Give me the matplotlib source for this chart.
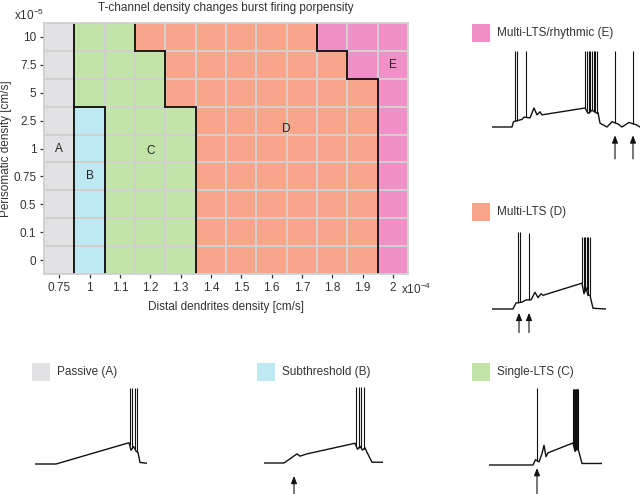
import numpy as np
import matplotlib
matplotlib.use('Agg')
import matplotlib.pyplot as plt
from matplotlib.colors import ListedColormap
from matplotlib.patches import Rectangle

plt.rcParams['font.family'] = 'Liberation Sans'
plt.rcParams['mathtext.default'] = 'regular'

# ---- heat map data ----
distal_labels = ['0.75', '1', '1.1', '1.2', '1.3', '1.4', '1.5', '1.6', '1.7', '1.8', '1.9', '2']
somatic_labels = ['0', '0.1', '0.5', '0.75', '1', '2.5', '5', '7.5', '10']
# rows from top (10) to bottom (0)
region_rows = [
    'ACCDDDDDDEEE',
    'ACCCDDDDDDEE',
    'ACCCDDDDDDDE',
    'ABCCCDDDDDDE',
    'ABCCCDDDDDDE',
    'ABCCCDDDDDDE',
    'ABCCCDDDDDDE',
    'ABCCCDDDDDDE',
    'ABCCCDDDDDDE',
]
region_names = ['A', 'B', 'C', 'D', 'E']
region_colors = ['#e2e2e4', '#bfe9f2', '#c3e4a8', '#f9a58c', '#f190c6']
region_label_pos = {'A': (0, 4), 'B': (1, 3), 'C': (3, 3.9), 'D': (7.5, 4.7), 'E': (11, 7)}

# ---- example voltage traces (time ms, membrane potential mV) ----
e_t = [0, 200, 215, 270, 300, 320, 380, 420, 450, 480, 500, 930, 960, 1000, 1050, 1060, 1080, 1150, 1200, 1260, 1300, 1370, 1440, 1480]
e_v = [-70, -70, -63, -61, -60, -57, -58, -45, -54, -50, -54, -45, -52, -48, -52, -51, -65, -70, -63, -66, -70, -64, -67, -70]
e_spikes = [230, 250, 340, 930, 948, 965, 982, 1000, 1017, 1034, 1050, 1230, 1410]
e_peaks = [30, 30, 30, 30, 30, 30, 30, 30, 30, 30, 30, 30, 30]
e_arrows = [1230, 1410]

d_t = [0, 210, 240, 300, 340, 390, 430, 460, 490, 510, 900, 920, 940, 960, 980, 1010, 1140]
d_v = [-70, -70, -62, -61, -58, -58, -48, -55, -50, -52, -36, -50, -42, -52, -52, -69, -70]
d_spikes = [260, 280, 370, 900, 915, 930, 945, 960, 975]
d_peaks = [31, 31, 30, 25, 25, 25, 25, 25, 25]
d_arrows = [270, 370]

a_t = [0, 210, 940, 960, 985, 1010, 1030, 1050, 1120]
a_v = [-70, -70, -42, -52, -47, -53, -55, -68, -69]
a_spikes = [947, 973, 997, 1023]
a_peaks = [30, 30, 30, 30]

b_t = [0, 200, 330, 360, 430, 910, 935, 960, 985, 1010, 1030, 1080, 1190]
b_v = [-70, -70, -58, -61, -58, -44, -52, -48, -53, -50, -56, -69, -69]
b_spikes = [920, 947, 973, 1000]
b_peaks = [30, 30, 30, 30]
b_arrows = [300]

c_t = [0, 440, 465, 500, 530, 550, 570, 590, 840, 860, 880, 900, 930, 1130]
c_v = [-70, -70, -63, -66, -55, -44, -59, -54, -41, -52, -47, -53, -68, -68]
c_spikes = [480, 842, 848, 854, 860, 866, 872, 878, 884, 890]
c_peaks = [31, 30, 30, 30, 30, 30, 30, 30, 30, 30]
c_arrows = [480]

W, H = 640, 494
fig = plt.figure(figsize=(6.4, 4.94), dpi=100)

# ---- heat map ----
ax = fig.add_axes([44 / W, 1 - 274 / H, 364 / W, 251 / H])
grid = np.array([[region_names.index(ch) for ch in row] for row in region_rows[::-1]])
nrows, ncols = grid.shape
cmap = ListedColormap(region_colors)
ax.pcolormesh(np.arange(ncols + 1), np.arange(nrows + 1), grid, cmap=cmap, vmin=-0.5, vmax=4.5,
              edgecolors='#d0d0d0', linewidth=1.3)

for r in range(nrows):
    for c in range(ncols - 1):
        if grid[r, c] != grid[r, c + 1]:
            ax.plot([c + 1, c + 1], [r, r + 1], color='#1a1a1a', lw=1.4, solid_capstyle='projecting')
for r in range(nrows - 1):
    for c in range(ncols):
        if grid[r, c] != grid[r + 1, c]:
            ax.plot([c, c + 1], [r + 1, r + 1], color='#1a1a1a', lw=1.4, solid_capstyle='projecting')

for name, (cx, cy) in region_label_pos.items():
    ax.text(cx + 0.5, cy + 0.5, name, ha='center', va='center', fontsize=8.5, color='#222222')

ax.set_xlim(0, ncols)
ax.set_ylim(0, nrows)
ax.set_xticks(np.arange(ncols) + 0.5)
ax.set_xticklabels(distal_labels)
ax.set_yticks(np.arange(nrows) + 0.5)
ax.set_yticklabels(somatic_labels)
ax.tick_params(direction='out', length=3, width=0.9, color='#333333', labelsize=8.5,
               labelcolor='#333333', pad=2.5)
for sp in ax.spines.values():
    sp.set_color('#d0d0d0')
    sp.set_linewidth(1.3)
ax.set_xlabel('Distal dendrites density [cm/s]', fontsize=8.5, color='#333333', labelpad=5)
ax.set_ylabel('Perisomatic density [cm/s]', fontsize=8.5, color='#333333', labelpad=1)
ax.set_title('T-channel density changes burst firing porpensity', fontsize=8.5, color='#333333', pad=9)
ax.text(0, 1.0, r'x10$^{-5}$', transform=ax.transAxes, ha='right', va='bottom', fontsize=8.5, color='#333333')
ax.annotate(r'x10$^{-4}$', xy=(11.76, 0), xycoords=('data', 'axes fraction'), xytext=(0, -5.5),
            textcoords='offset points', ha='left', va='top', fontsize=8.5, color='#333333')


# ---- traces ----
def trace_panel(x0, y_base, t, v, spikes, peaks, arrows=(), arrow_head=-78, arrow_tail=-108):
    px_mv = 0.76
    v_lo, v_hi = -120, 40
    t_end = t[-1]
    bottom_px = y_base + (-70 - v_lo) * px_mv
    height_px = (v_hi - v_lo) * px_mv
    tax = fig.add_axes([x0 / W, 1 - bottom_px / H, t_end / 10 / W, height_px / H])
    tax.set_xlim(0, t_end)
    tax.set_ylim(v_lo, v_hi)
    tax.axis('off')
    tax.plot(t, v, color='#111111', lw=1.0)
    base = np.interp(spikes, t, v)
    tax.vlines(spikes, base, peaks, color='#111111', lw=0.8)
    for ta in arrows:
        tax.annotate('', xy=(ta, arrow_head), xytext=(ta, arrow_tail), annotation_clip=False,
                     arrowprops=dict(arrowstyle='-|>,head_length=0.45,head_width=0.18',
                                     color='#111111', lw=0.8, shrinkA=0, shrinkB=0))
    return tax


trace_panel(492, 127, e_t, e_v, e_spikes, e_peaks, e_arrows, -81, -112)
trace_panel(492, 309, d_t, d_v, d_spikes, d_peaks, d_arrows, -75, -101)
trace_panel(35, 464, a_t, a_v, a_spikes, a_peaks)
trace_panel(264, 463, b_t, b_v, b_spikes, b_peaks, b_arrows, -87, -112)
trace_panel(489, 465, c_t, c_v, c_spikes, c_peaks, c_arrows, -74, -112)

# ---- legend squares ----
legend_items = [
    (472, 24, region_colors[4], 'Multi-LTS/rhythmic (E)'),
    (472, 203, region_colors[3], 'Multi-LTS (D)'),
    (472, 363, region_colors[2], 'Single-LTS (C)'),
    (32, 363, region_colors[0], 'Passive (A)'),
    (257, 363, region_colors[1], 'Subthreshold (B)'),
]
for x, y, col, lab in legend_items:
    fig.add_artist(Rectangle((x / W, 1 - (y + 18) / H), 18 / W, 18 / H, transform=fig.transFigure,
                             facecolor=col, edgecolor='none'))
    fig.text((x + 25) / W, 1 - (y + 9) / H, lab, ha='left', va='center', fontsize=8.5, color='#333333')

fig.savefig('out.png', dpi=100)
